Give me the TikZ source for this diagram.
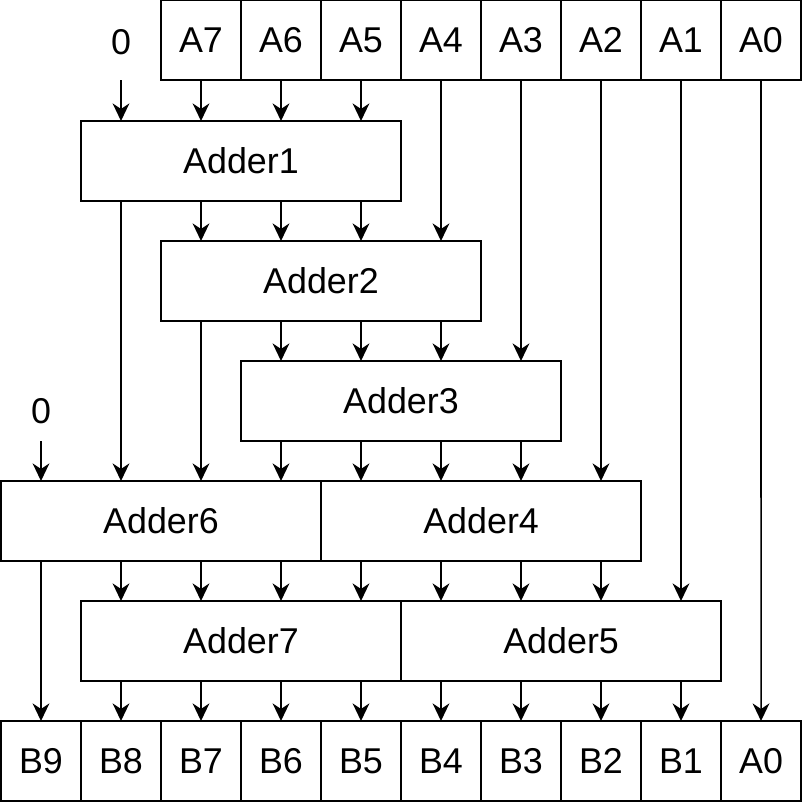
\documentclass[tikz,border=0pt]{standalone}
\usepackage{fontspec}
\setmainfont{Liberation Sans}
\usetikzlibrary{arrows.meta,positioning}

\begin{document}
\begin{tikzpicture}[x=0.025cm, y=-0.025cm, font=\fontsize{25.5}{30}\selectfont,
  cell/.style={draw, line width=1.4pt, inner sep=0pt, outer sep=0pt, minimum width=2cm, minimum height=2cm},
  adder/.style={cell, minimum width=8cm},
  zero/.style={inner sep=0pt, outer sep=0pt, minimum width=1cm},
  sig/.style={-{Stealth[length=4.4mm, width=4.2mm, inset=1.4mm]}, line width=1.1pt}]
\useasboundingbox (0,0) rectangle (802,802);
% input and output rows
\foreach \n [count=\i] in {7,...,0} \node[cell] (a\n) at ({121+80*\i},40) {A\n};
\foreach \n [count=\i from 0] in {9,...,1} \node[cell] (b\n) at ({41+80*\i},761) {B\n};
\node[cell, right=0pt of b1] (c0) {A0};
% adders
\node[adder] (add1) at (241,161) {Adder1};
\node[adder] (add2) at (321,281) {Adder2};
\node[adder] (add3) at (401,401) {Adder3};
\node[adder] (add6) at (161,521) {Adder6};
\node[adder, right=0pt of add6] (add4) {Adder4};
\node[adder] (add7) at (241,641) {Adder7};
\node[adder, right=0pt of add7] (add5) {Adder5};
\node[zero, minimum height=1.9cm] (zero1) at (121,42) {0};
\node[zero, minimum height=1.5cm] (zero2) at (41,411) {0};
% connections
\draw[sig] (zero1.south) -- (add1.north -| zero1);
\draw[sig] (zero2.south) -- (add6.north -| zero2);
\foreach \n in {a7,a6,a5} \draw[sig] (\n) -- (\n |- add1.north);
\draw[sig] (a4) -- (a4 |- add2.north);
\draw[sig] (a3) -- (a3 |- add3.north);
\draw[sig] (a2) -- (a2 |- add4.north);
\draw[sig] (a1) -- (a1 |- add5.north);
\draw[sig] (a0) -- (c0);
\foreach \n in {b7,b6,b5} \draw[sig] (add1.south -| \n) -- (add2.north -| \n);
\draw[sig] (add1.south -| b8) -- (add6.north -| b8);
\foreach \n in {b6,b5,b4} \draw[sig] (add2.south -| \n) -- (add3.north -| \n);
\draw[sig] (add2.south -| b7) -- (add6.north -| b7);
\draw[sig] (add3.south -| b6) -- (add6.north -| b6);
\foreach \n in {b5,b4,b3} \draw[sig] (add3.south -| \n) -- (add4.north -| \n);
\draw[sig] (add6.south -| b9) -- (b9);
\foreach \n in {b8,b7,b6} \draw[sig] (add6.south -| \n) -- (add7.north -| \n);
\draw[sig] (add4.south -| b5) -- (add7.north -| b5);
\foreach \n in {b4,b3,b2} \draw[sig] (add4.south -| \n) -- (add5.north -| \n);
\foreach \n in {b8,b7,b6,b5} \draw[sig] (add7.south -| \n) -- (\n);
\foreach \n in {b4,b3,b2,b1} \draw[sig] (add5.south -| \n) -- (\n);
\end{tikzpicture}
\end{document}
